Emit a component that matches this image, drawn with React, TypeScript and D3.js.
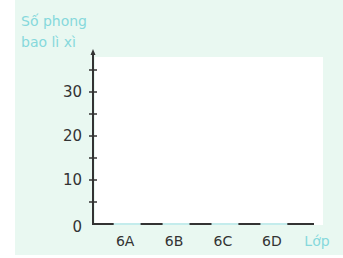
import React, { useEffect, useRef } from 'react';
import * as d3 from 'd3';

const classes = ['6A', '6B', '6C', '6D'];
const envelopes = [0, 0, 0, 0];
const majorTicks = [0, 10, 20, 30];
const minorTicks = [5, 15, 25, 35];

function App() {
  const chartRef = useRef(null);

  useEffect(() => {
    const root = d3.select(chartRef.current);
    root.selectAll('*').remove();

    const width = 343;
    const height = 258;
    const font = "'DejaVu Sans', sans-serif";
    const ink = '#333';
    const cyan = '#86d8dc';

    const svg = root
      .append('svg')
      .attr('width', width)
      .attr('height', height)
      .style('position', 'absolute')
      .style('left', 0)
      .style('top', 0)
      .style('background', '#ffffff');

    // mint panel and white plot area
    svg.append('rect').attr('x', 15).attr('y', 0).attr('width', 328).attr('height', 255).attr('fill', '#e9f8f1');
    svg.append('rect').attr('x', 95).attr('y', 57).attr('width', 228).attr('height', 168).attr('fill', '#ffffff');

    const y = d3.scaleLinear().domain([0, 40]).range([224, 48]);
    const x = d3
      .scaleBand()
      .domain(classes)
      .range([99, 302])
      .paddingInner(0.45)
      .paddingOuter(0.3);

    // bars (empty, value 0)
    svg
      .selectAll('.bar')
      .data(classes)
      .enter()
      .append('rect')
      .attr('class', 'bar')
      .attr('x', (d) => x(d))
      .attr('y', (d, i) => y(envelopes[i]))
      .attr('width', x.bandwidth())
      .attr('height', (d, i) => y(0) - y(envelopes[i]))
      .attr('fill', cyan);

    // x axis baseline
    svg
      .append('line')
      .attr('x1', 93)
      .attr('x2', 314)
      .attr('y1', y(0))
      .attr('y2', y(0))
      .attr('stroke', ink)
      .attr('stroke-width', 2);

    // light bar bases on top of the axis
    svg
      .selectAll('.base')
      .data(classes)
      .enter()
      .append('line')
      .attr('class', 'base')
      .attr('x1', (d) => x(d))
      .attr('x2', (d) => x(d) + x.bandwidth())
      .attr('y1', y(0))
      .attr('y2', y(0))
      .attr('stroke', '#c4ecec')
      .attr('stroke-width', 2);

    // y axis
    svg
      .append('line')
      .attr('x1', 93)
      .attr('x2', 93)
      .attr('y1', y(0) + 1)
      .attr('y2', 52)
      .attr('stroke', ink)
      .attr('stroke-width', 2);
    svg
      .append('path')
      .attr('d', 'M93,49 L90.5,55 L95.5,55 Z')
      .attr('fill', ink);

    svg
      .selectAll('.tick')
      .data(majorTicks.slice(1).concat(minorTicks))
      .enter()
      .append('line')
      .attr('x1', 89)
      .attr('x2', 97)
      .attr('y1', (d) => y(d))
      .attr('y2', (d) => y(d))
      .attr('stroke', ink)
      .attr('stroke-width', 1.5);

    svg
      .selectAll('.ylabel')
      .data(majorTicks)
      .enter()
      .append('text')
      .attr('x', 82)
      .attr('y', (d) => (d === 0 ? y(d) + 3 : y(d)))
      .attr('dy', '0.35em')
      .attr('text-anchor', 'end')
      .attr('font-family', font)
      .attr('font-size', 15)
      .attr('fill', ink)
      .text((d) => d);

    svg
      .selectAll('.xlabel')
      .data(classes)
      .enter()
      .append('text')
      .attr('x', (d) => x(d) + x.bandwidth() / 2 - 2)
      .attr('y', 246)
      .attr('text-anchor', 'middle')
      .attr('font-family', font)
      .attr('font-size', 14)
      .attr('fill', ink)
      .text((d) => d);

    svg
      .append('text')
      .attr('x', 317)
      .attr('y', 246)
      .attr('text-anchor', 'middle')
      .attr('font-family', font)
      .attr('font-size', 14)
      .attr('fill', cyan)
      .text('Lớp');

    svg
      .append('text')
      .attr('x', 21)
      .attr('y', 26)
      .attr('font-family', font)
      .attr('font-size', 14)
      .attr('fill', cyan)
      .text('Số phong');
    svg
      .append('text')
      .attr('x', 21)
      .attr('y', 47)
      .attr('font-family', font)
      .attr('font-size', 14)
      .attr('fill', cyan)
      .text('bao lì xì');
  }, []);

  return <div ref={chartRef} />;
}

export default App;
